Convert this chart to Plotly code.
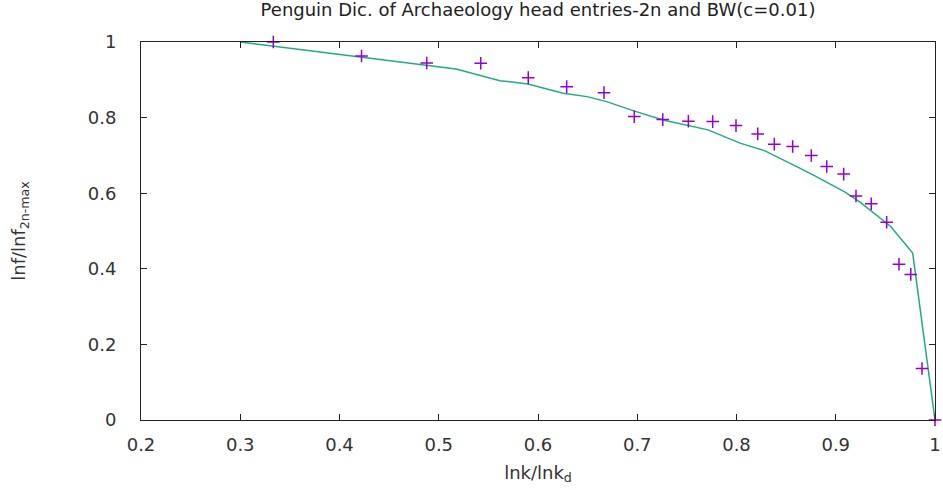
import plotly.graph_objects as go

# Empirical data points (purple crosses)
obs_x = [0.3333, 0.4222, 0.4879, 0.5423, 0.5902, 0.6289, 0.6665, 0.6970, 0.7257,
         0.7515, 0.7760, 0.7995, 0.8214, 0.8381, 0.8566, 0.8754, 0.8909, 0.9080,
         0.9204, 0.9358, 0.9513, 0.9637, 0.9756, 0.9869, 1.0]
obs_y = [1.0, 0.963, 0.9445, 0.9437, 0.9057, 0.8819, 0.8660, 0.8026, 0.7947,
         0.7905, 0.7894, 0.7789, 0.7569, 0.7297, 0.7234, 0.6996, 0.6705, 0.6505,
         0.5926, 0.5720, 0.5231, 0.4121, 0.3852, 0.1361, 0.0]

# BW model curve (green line)
bw_x = [0.300, 0.5174, 0.5617, 0.5899, 0.6252, 0.6494, 0.6692, 0.6957, 0.7260,
        0.7532, 0.7713, 0.8036, 0.8287, 0.8607, 0.8771, 0.9094, 0.9245, 0.9554,
        0.9775, 1.0]
bw_y = [1.0, 0.9287, 0.8977, 0.8890, 0.8645, 0.8555, 0.8423, 0.8185, 0.7939,
        0.7789, 0.7675, 0.7324, 0.7120, 0.6705, 0.6486, 0.6029, 0.5765, 0.5120,
        0.4417, 0.0]

x_ticks = [0.2, 0.3, 0.4, 0.5, 0.6, 0.7, 0.8, 0.9, 1.0]
y_ticks = [0, 0.2, 0.4, 0.6, 0.8, 1.0]

FONT = "DejaVu Sans"
TXT = "#333333"

fig = go.Figure()
fig.add_trace(go.Scatter(
    x=bw_x, y=bw_y, mode="lines",
    line=dict(color="#22aa85", width=1.5),
    cliponaxis=False, showlegend=False,
))
fig.add_trace(go.Scatter(
    x=obs_x, y=obs_y, mode="markers",
    marker=dict(symbol="cross-thin", size=9,
                line=dict(color="#9400D3", width=1.5), color="#9400D3"),
    cliponaxis=False, showlegend=False,
))

axis_common = dict(
    showgrid=False, zeroline=False, showline=True, linecolor="#222222",
    linewidth=1, mirror="ticks", ticks="inside", ticklen=6, tickwidth=1,
    tickcolor="#222222", tickfont=dict(family=FONT, size=18, color=TXT),
    automargin=False,
)

fig.update_layout(
    width=943, height=490,
    margin=dict(l=141, r=8, t=42, b=70, autoexpand=False),
    paper_bgcolor="white", plot_bgcolor="white",
    title=dict(
        text="Penguin Dic. of Archaeology head entries-2n and BW(c=0.01)",
        font=dict(family=FONT, size=18, color="#222222"),
        x=0.5, xref="paper", xanchor="center",
        y=1 - 10 / 490, yref="container", yanchor="middle",
    ),
    xaxis=dict(
        range=[0.2, 1.0], tickvals=x_ticks, ticklabelstandoff=8,
        title=dict(text="lnk/lnk<sub>d</sub>", standoff=12,
                   font=dict(family=FONT, size=18, color=TXT)),
        **axis_common,
    ),
    yaxis=dict(
        range=[0, 1.0], tickvals=y_ticks, ticklabelstandoff=20,
        title=dict(text="lnf/lnf<sub>2n-max</sub>", standoff=57,
                   font=dict(family=FONT, size=18, color=TXT)),
        **axis_common,
    ),
)

fig.write_html("out.html")
